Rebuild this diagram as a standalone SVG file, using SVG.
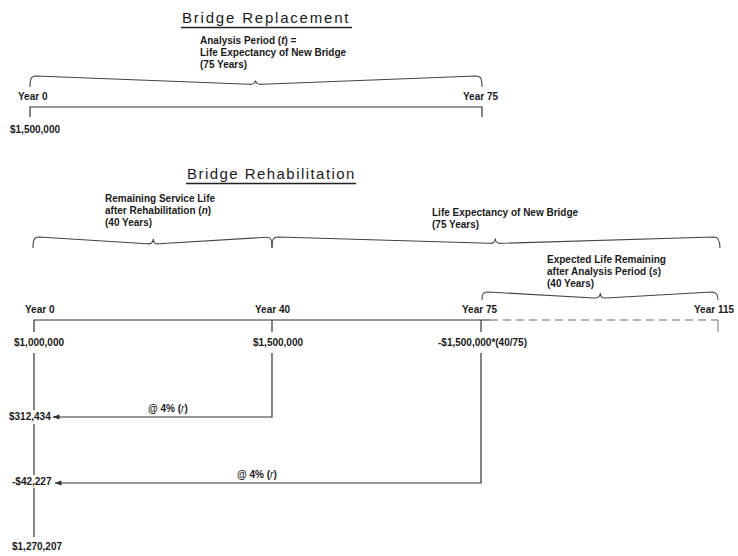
<svg xmlns="http://www.w3.org/2000/svg" width="738" height="556" viewBox="0 0 738 556">
<style>
text{font-family:"Liberation Sans",Arial,sans-serif;fill:#1a1a1a}
.t{font-size:10px;font-weight:bold}
.h{font-size:15px}
.ln{fill:none;stroke:#333;stroke-width:1.2}
.br{fill:none;stroke:#444;stroke-width:1.1}
.ds{fill:none;stroke:#666;stroke-width:1.2;stroke-dasharray:8 5}
</style>
<defs>
<marker id="ah" markerWidth="7" markerHeight="6" refX="6.5" refY="3" orient="auto" markerUnits="userSpaceOnUse">
<path d="M0,0.5 L7,3 L0,5.5 Z" fill="#333"/>
</marker>
</defs>
<rect width="738" height="556" fill="#fff"/>

<g id="title-replacement">
<text class="h" x="182" y="23" style="letter-spacing:1.8px">Bridge  Replacement</text>
<line x1="181" y1="27.5" x2="352" y2="27.5" stroke="#222" stroke-width="1.3"/>
</g>
<g id="label-analysis-period">
<text class="t" x="200" y="44">Analysis Period (<tspan font-style="italic">t</tspan>) =</text>
<text class="t" x="200" y="56">Life Expectancy of New Bridge</text>
<text class="t" x="200" y="68">(75 Years)</text>
</g>
<g id="repl-year0"><text class="t" x="18" y="100">Year 0</text></g>
<g id="repl-year75"><text class="t" x="463" y="100">Year 75</text></g>
<g id="repl-cost"><text class="t" x="10" y="133">$1,500,000</text></g>

<g id="title-rehabilitation">
<text class="h" x="187" y="179" style="letter-spacing:1.45px">Bridge  Rehabilitation</text>
<line x1="186" y1="183.5" x2="356" y2="183.5" stroke="#222" stroke-width="1.3"/>
</g>
<g id="label-remaining-service">
<text class="t" x="105" y="202">Remaining Service Life</text>
<text class="t" x="105" y="214">after Rehabilitation (<tspan font-style="italic">n</tspan>)</text>
<text class="t" x="105" y="226">(40 Years)</text>
</g>
<g id="label-life-expectancy">
<text class="t" x="432" y="216">Life Expectancy of New Bridge</text>
<text class="t" x="432" y="228">(75 Years)</text>
</g>
<g id="label-expected-life">
<text class="t" x="547" y="263">Expected Life Remaining</text>
<text class="t" x="547" y="275">after Analysis Period (<tspan font-style="italic">s</tspan>)</text>
<text class="t" x="547" y="287">(40 Years)</text>
</g>
<g id="rehab-year0"><text class="t" x="25" y="313">Year 0</text></g>
<g id="rehab-year40"><text class="t" x="255" y="313">Year 40</text></g>
<g id="rehab-year75"><text class="t" x="462" y="313">Year 75</text></g>
<g id="rehab-year115"><text class="t" x="694" y="313">Year 115</text></g>
<g id="cost-rehab"><text class="t" x="14" y="346">$1,000,000</text></g>
<g id="cost-replace40"><text class="t" x="253" y="346">$1,500,000</text></g>
<g id="residual75"><text class="t" x="438" y="346">-$1,500,000*(40/75)</text></g>
<g id="pv-replace"><text class="t" x="9" y="420">$312,434</text></g>
<g id="pv-residual"><text class="t" x="12" y="485">-$42,227</text></g>
<g id="total"><text class="t" x="12" y="550">$1,270,207</text></g>
<g id="rate1"><text class="t" x="148" y="412">@ 4% (<tspan font-style="italic" font-weight="normal">r</tspan>)</text></g>
<g id="rate2"><text class="t" x="237" y="478">@ 4% (<tspan font-style="italic" font-weight="normal">r</tspan>)</text></g>

<g id="connectors">
<path class="br" d="M30,87 C30,79 31,76 36,76 L249,84.3 C253,84.6 255,84 255.5,80.5 C256,84 258,84.6 262,84.3 L476,76 C481,76 482,79 482,87"/>
<path class="ln" d="M30,117 V107 H482 V117"/>
<path class="br" d="M33,248 C33,240 34,237 39,237 L147,243.8 C151,244.2 153,243 153.3,239 C153.6,243 155,244.2 159,243.8 L266,237.3 C270,237 272,238 272,248"/>
<path class="br" d="M272,248 C272,238 274,237 278,237 L489,243.3 C493,243.6 495,242.5 495.3,238.5 C495.6,242.5 497,243.6 501,243.3 L714,237 C718,237 720,240 720,248"/>
<path class="br" d="M482,300 C482,294 483,292 488,292 L594,298 C598,298.4 600,297 600.3,293 C600.6,297 602,298.4 606,298 L712,292 C716,292 718,294 718,300"/>
<path class="ln" d="M34,332 V320 H490"/>
<line class="ln" x1="272" y1="320" x2="272" y2="332"/>
<line class="ln" x1="481" y1="320" x2="481" y2="332"/>
<path class="ds" d="M490,320 H718"/>
<line x1="718" y1="320" x2="718" y2="332" stroke="#888" stroke-width="1.2"/>
<line class="ln" x1="34" y1="353" x2="34" y2="410"/>
<line class="ln" x1="34" y1="424" x2="34" y2="475"/>
<line class="ln" x1="34" y1="488" x2="34" y2="537"/>
<path class="ln" d="M272,353 V417 H53" marker-end="url(#ah)"/>
<path class="ln" d="M481,353 V483 H55" marker-end="url(#ah)"/>
</g>
</svg>
